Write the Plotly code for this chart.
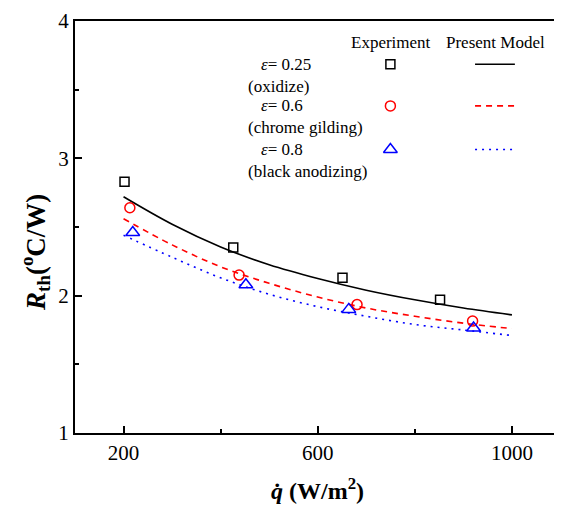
import plotly.graph_objects as go

# ---- data ----
q_model = [200, 300, 400, 500, 600, 700, 800, 900, 1000]
rth_model_025 = [2.72, 2.52, 2.355, 2.225, 2.125, 2.04, 1.97, 1.91, 1.86]
rth_model_06 = [2.56, 2.37, 2.21, 2.09, 1.99, 1.91, 1.85, 1.80, 1.76]
rth_model_08 = [2.44, 2.28, 2.13, 2.01, 1.92, 1.85, 1.79, 1.75, 1.71]

q_exp_025 = [202, 426, 651, 852]
rth_exp_025 = [2.83, 2.35, 2.13, 1.97]
q_exp_06 = [213, 438, 681, 919]
rth_exp_06 = [2.64, 2.15, 1.935, 1.815]
q_exp_08 = [219, 452, 664, 921]
rth_exp_08 = [2.46, 2.08, 1.90, 1.765]

x_ticks = [200, 600, 1000]
y_ticks = [1, 2, 3, 4]

legend_labels = ["<i>ε</i>= 0.25", "<i>ε</i>= 0.6", "<i>ε</i>= 0.8"]
legend_notes = ["(oxidize)", "(chrome gilding)", "(black anodizing)"]

FONT = "Liberation Serif, Times New Roman, serif"
colors = ["black", "red", "blue"]
dashes = ["solid", "6px,5px", "2px,5px"]
symbols = ["square-open", "circle-open", "triangle-up-open"]
msizes = [9, 10, 12]

fig = go.Figure()

exp_sets = [(q_exp_025, rth_exp_025), (q_exp_06, rth_exp_06), (q_exp_08, rth_exp_08)]
model_sets = [rth_model_025, rth_model_06, rth_model_08]

for i in range(3):
    fig.add_trace(go.Scatter(
        x=q_model, y=model_sets[i], mode="lines", line_shape="spline",
        line=dict(color=colors[i], width=1.6, dash=dashes[i]),
        showlegend=False, hoverinfo="skip"))
for i in range(3):
    fig.add_trace(go.Scatter(
        x=exp_sets[i][0], y=exp_sets[i][1], mode="markers",
        marker=dict(symbol=symbols[i], size=msizes[i], color=colors[i],
                    line=dict(width=1.5, color=colors[i])),
        showlegend=False))

# ---- custom legend on a hidden overlay axis (screen-pixel-like coordinates) ----
row_y = [60.7, 102.7, 146.7]
for i in range(3):
    fig.add_trace(go.Scatter(
        x=[391.7], y=[row_y[i]], xaxis="x2", yaxis="y2", mode="markers",
        marker=dict(symbol=symbols[i], size=msizes[i], color=colors[i],
                    line=dict(width=1.5, color=colors[i])),
        showlegend=False, hoverinfo="skip"))
    fig.add_trace(go.Scatter(
        x=[476.7, 516.7], y=[row_y[i], row_y[i]], xaxis="x2", yaxis="y2",
        mode="lines", line=dict(color=colors[i], width=1.6, dash=dashes[i]),
        showlegend=False, hoverinfo="skip"))

annotations = []
annotations.append(dict(x=392, y=38.5, xref="x2", yref="y2", text="Experiment",
                        showarrow=False, font=dict(family=FONT, size=17, color="black")))
annotations.append(dict(x=497.5, y=38.5, xref="x2", yref="y2", text="Present Model",
                        showarrow=False, font=dict(family=FONT, size=17, color="black")))
for i in range(3):
    annotations.append(dict(x=260, y=row_y[i], xref="x2", yref="y2", xanchor="left",
                            text=legend_labels[i], showarrow=False,
                            font=dict(family=FONT, size=17, color="black")))
    annotations.append(dict(x=246.7, y=row_y[i] + 22, xref="x2", yref="y2", xanchor="left",
                            text=legend_notes[i], showarrow=False,
                            font=dict(family=FONT, size=17, color="black")))

# axis titles (paper coordinates)
annotations.append(dict(x=0.5, y=-0.137, xref="paper", yref="paper",
                        xanchor="center", yanchor="middle",
                        text="<b><i>q̇</i> (W/m<sup>2</sup>)</b>", showarrow=False,
                        font=dict(family=FONT, size=24, color="black")))
annotations.append(dict(x=-0.0823, y=0.4375, xref="paper", yref="paper", textangle=-90,
                        xanchor="center", yanchor="middle",
                        text="<b><i>R</i><sub>th</sub>(<sup>o</sup>C/W)</b>", showarrow=False,
                        font=dict(family=FONT, size=27, color="black")))

# page body has an 8px default margin, so the figure is sized to fit the window
fig.update_layout(
    width=554, height=503,
    margin=dict(l=67, r=1, t=9, b=78),
    paper_bgcolor="white", plot_bgcolor="white",
    showlegend=False,
    font=dict(family=FONT, color="black"),
    xaxis=dict(range=[100, 1097], tickvals=x_ticks, ticks="inside", ticklen=7,
               tickwidth=2, tickcolor="black", showline=True, linecolor="black",
               linewidth=2, mirror=True, showgrid=False, zeroline=False,
               ticklabeloverflow="allow",
               tickfont=dict(family=FONT, size=21, color="black"),
               minor=dict(ticks="inside", ticklen=4, tickwidth=2, tickcolor="black",
                          tickvals=[400, 800], showgrid=False)),
    yaxis=dict(range=[1, 4], tickvals=y_ticks, ticks="inside", ticklen=7,
               tickwidth=2, tickcolor="black", showline=True, linecolor="black",
               linewidth=2, mirror=True, showgrid=False, zeroline=False,
               ticklabeloverflow="allow",
               tickfont=dict(family=FONT, size=21, color="black"),
               minor=dict(ticks="inside", ticklen=4, tickwidth=2, tickcolor="black",
                          tickvals=[1.5, 2.5, 3.5], showgrid=False)),
    xaxis2=dict(range=[75, 561], overlaying="x", visible=False, fixedrange=True),
    yaxis2=dict(range=[433, 17], overlaying="y", visible=False, fixedrange=True),
    annotations=annotations,
)

fig.write_html("out.html")
